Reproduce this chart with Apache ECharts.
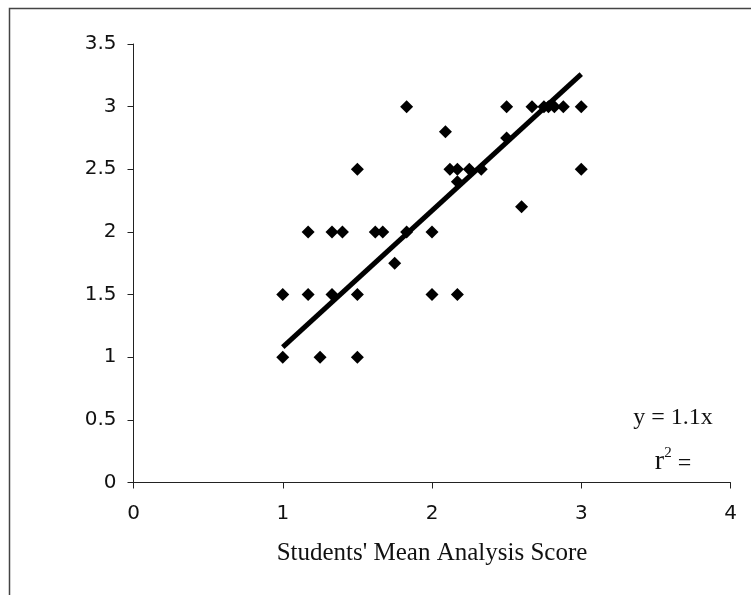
<!DOCTYPE html>
<html>
<head>
<meta charset="utf-8">
<script src="https://cdn.jsdelivr.net/npm/echarts@6/dist/echarts.min.js"></script>
<style>html,body{margin:0;padding:0;background:#fff;}#c{width:751px;height:595px;}</style>
</head>
<body>
<div id="c"></div>
<script>
// Students' mean analysis score (x) vs. score (y)
var xValues = [1.0, 1.25, 1.5,
  1.0, 1.17, 1.33, 1.5, 2.0, 2.17,
  1.75,
  1.17, 1.33, 1.4, 1.62, 1.67, 1.83, 2.0,
  2.6,
  2.17,
  1.5, 2.12, 2.17, 2.25, 2.33, 3.0,
  2.5,
  2.09,
  1.83, 2.5, 2.67, 2.75, 2.78, 2.82, 2.88, 3.0];
var yValues = [1, 1, 1,
  1.5, 1.5, 1.5, 1.5, 1.5, 1.5,
  1.75,
  2, 2, 2, 2, 2, 2, 2,
  2.2,
  2.4,
  2.5, 2.5, 2.5, 2.5, 2.5, 2.5,
  2.75,
  2.8,
  3, 3, 3, 3, 3, 3, 3, 3];
var trendX = [1, 3];
var trendY = [1.08, 3.26];
var xTicks = [0, 1, 2, 3, 4];
var yTicks = [0, 0.5, 1, 1.5, 2, 2.5, 3, 3.5];
var xTitle = "Students' Mean Analysis Score";
var eqLine1 = 'y = 1.1x';
var eqLine2 = '{r|r}{s|2}{e| =}';

var points = xValues.map(function (x, i) { return [x, yValues[i]]; });
var trend = trendX.map(function (x, i) { return [x, trendY[i]]; });

var chart = echarts.init(document.getElementById('c'), null, {renderer: 'canvas'});
var axisColor = '#222';
chart.setOption({
  animation: false,
  backgroundColor: '#fff',
  grid: {left: 133.5, right: 20.5, top: 44, bottom: 112.5, containLabel: false},
  xAxis: {
    type: 'value', min: xTicks[0], max: xTicks[xTicks.length - 1], interval: 1,
    name: xTitle, nameLocation: 'middle', nameGap: 58,
    nameTextStyle: {fontFamily: 'Liberation Serif', fontSize: 25, color: '#111'},
    axisLine: {show: true, onZero: false, lineStyle: {color: axisColor, width: 1}},
    axisTick: {show: true, inside: false, length: 6, lineStyle: {color: axisColor}},
    axisLabel: {margin: 21, fontFamily: 'DejaVu Sans', fontSize: 20, color: '#111',
      formatter: function (v) { return String(v); }},
    splitLine: {show: false}
  },
  yAxis: {
    type: 'value', min: yTicks[0], max: yTicks[yTicks.length - 1], interval: 0.5,
    axisLine: {show: true, onZero: false, lineStyle: {color: axisColor, width: 1}},
    axisTick: {show: true, inside: false, length: 6, lineStyle: {color: axisColor}},
    axisLabel: {margin: 17, fontFamily: 'DejaVu Sans', fontSize: 20, color: '#111',
      formatter: function (v) { return String(v); }},
    splitLine: {show: false}
  },
  series: [
    {
      type: 'line', data: trend, symbol: 'none', z: 2,
      lineStyle: {color: '#000', width: 5}
    },
    {
      type: 'scatter', data: points, symbol: 'diamond', symbolSize: 13, z: 3,
      itemStyle: {color: '#000', opacity: 1}
    }
  ],
  graphic: [
    {type: 'polyline', shape: {points: [[9.5, 595], [9.5, 8.5], [751, 8.5]]},
      style: {stroke: '#444', lineWidth: 1.5, fill: null}},
    {type: 'text', x: 673, y: 418, style: {text: eqLine1, fontFamily: 'Liberation Serif',
      fontSize: 24, fill: '#111', align: 'center', verticalAlign: 'middle'}},
    {type: 'text', x: 673, y: 461, style: {text: eqLine2, fontFamily: 'Liberation Serif',
      fontSize: 24, fill: '#111', align: 'center', verticalAlign: 'middle',
      rich: {
        r: {fontFamily: 'Liberation Serif', fontSize: 28, fill: '#111', verticalAlign: 'bottom', lineHeight: 30},
        s: {fontFamily: 'Liberation Serif', fontSize: 15, fill: '#111', verticalAlign: 'top', lineHeight: 30},
        e: {fontFamily: 'Liberation Serif', fontSize: 24, fill: '#111', verticalAlign: 'bottom', lineHeight: 30}
      }}}
  ]
});
</script>
</body>
</html>
